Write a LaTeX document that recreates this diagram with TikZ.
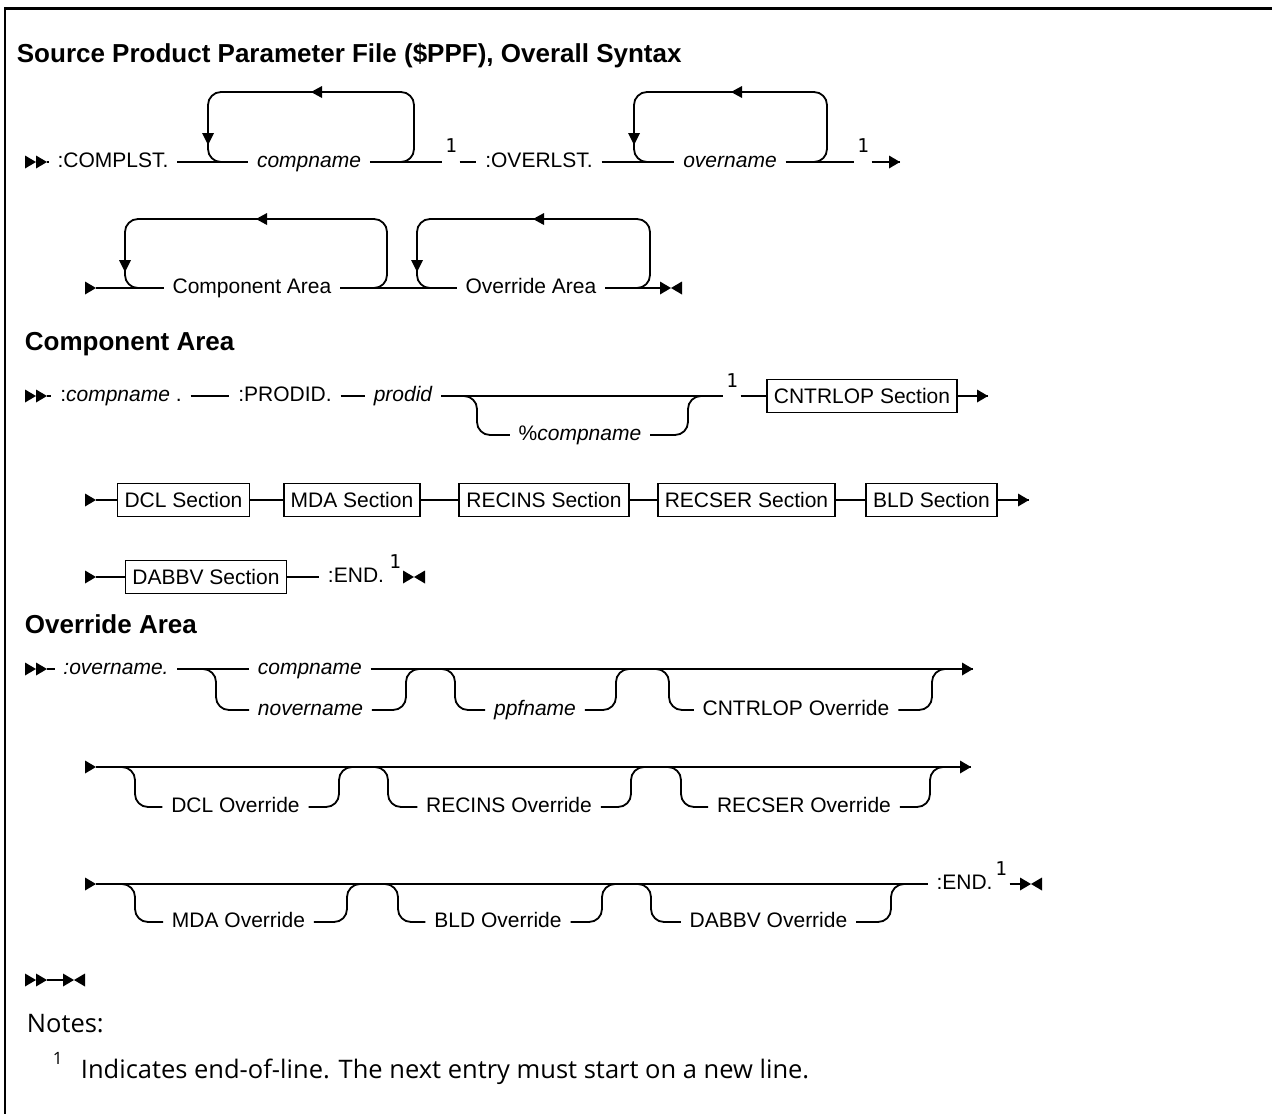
\documentclass[tikz,border=0pt]{standalone}
\usepackage{fontspec}
\setmainfont{Liberation Sans}
\newfontfamily\notefam{Open Sans}
\newfontfamily\monofam{DejaVu Sans Mono}
\newcommand\dfont{\fontsize{21}{25}\selectfont}
\newcommand\hfont{\fontsize{26}{31}\selectfont\bfseries}
\newcommand\supfnt{\monofam\fontsize{19}{21}\selectfont}
\newcommand\notefnt{\notefam\fontsize{25.5}{30}\selectfont}
\begin{document}
\dfont
\begin{tikzpicture}[x=1pt,y=-1pt,line width=1.8pt,
  t/.style={font=\dfont,inner xsep=8pt,inner ysep=0pt,anchor=mid},
  ti/.style={t,font=\dfont\itshape},
  box/.style={draw,font=\dfont,inner xsep=7pt,inner ysep=0pt,minimum height=33pt,anchor=center},
  supn/.style={font=\supfnt,inner xsep=2pt,inner ysep=0pt,anchor=base},
  hd/.style={font=\hfont,inner sep=0pt,anchor=base west},
  lp/.style={rounded corners=13pt},
  rtri/.pic={\fill (0,0) -- (-11,-6.5) -- (-11,6.5) -- cycle;},
  ltri/.pic={\fill (0,0) -- (11,-6) -- (11,6) -- cycle;},
  dtri/.pic={\fill (0,0) -- (-6,-12) -- (6,-12) -- cycle;},
  bowtie/.pic={\fill (0,0) -- (-11,-6.5) -- (-11,6.5) -- cycle; \fill (0,0) -- (11,-6.5) -- (11,6.5) -- cycle;},
]
\useasboundingbox (0,0) rectangle (1272,1114);
% frame
\draw[line width=3pt] (4,8) -- (1272,8);
\draw[line width=2.4pt] (5,8) -- (5,1114);

% headings
\node[hd] (h1) at (16,62) {Source Product Parameter File (\$PPF), Overall Syntax};
\node[hd] (h2) at (24,350) {Component Area};
\node[hd] (h3) at (24,633) {Override Area};

% ---------- Row 1
\pic at (36,162) {rtri};
\coordinate (s1) at (47,162);
\pic at (s1) {rtri};
\node[t] (cl) at (113,162) {:COMPLST.};
\node[ti] (cn) at (309,162) {compname};
\draw (s1) -- (cl.mid west);
\draw (cl.mid east) -- (cn.mid west);
\draw[lp] (400,162) -- (414,162) -- (414,92) -- (208,92) -- (208,162) -- (222,162);
\pic at (311,92) {ltri};
\pic at (208,145) {dtri};
\node[supn] (u1) at (451,152) {1};
\draw (cn.mid east) -- (cn.mid east -| u1.west);
\node[t] (ol) at (539,162) {:OVERLST.};
\draw (u1.east |- ol.mid west) -- (ol.mid west);
\node[ti] (on) at (730,162) {overname};
\draw (ol.mid east) -- (on.mid west);
\draw[lp] (813,162) -- (827,162) -- (827,92) -- (634,92) -- (634,162) -- (648,162);
\pic at (731,92) {ltri};
\pic at (634,145) {dtri};
\node[supn] (u2) at (863,152) {1};
\draw (on.mid east) -- (on.mid east -| u2.west);
\coordinate (e1) at (900,162);
\draw (u2.east |- e1) -- (e1);
\pic at (e1) {rtri};

% ---------- Row 2
\coordinate (s2) at (96,288);
\pic at (s2) {rtri};
\node[t] (ca) at (252,288) {Component Area};
\node[t] (oa) at (531,288) {Override Area};
\draw (s2) -- (ca.mid west);
\draw (ca.mid east) -- (oa.mid west);
\draw[lp] (373,288) -- (387,288) -- (387,219) -- (125,219) -- (125,288) -- (139,288);
\pic at (256,219) {ltri};
\pic at (125,272) {dtri};
\draw[lp] (636,288) -- (650,288) -- (650,219) -- (417,219) -- (417,288) -- (431,288);
\pic at (533,219) {ltri};
\pic at (417,272) {dtri};
\coordinate (e2) at (660,288);
\draw (oa.mid east) -- (e2);
\pic at (671,288) {bowtie};

% ---------- Row 3
\pic at (36,396) {rtri};
\coordinate (s3) at (47,396);
\pic at (s3) {rtri};
\node[t] (cp) at (121,396) {:\textit{compname}\ .};
\node[t] (pr) at (285,396) {:PRODID.};
\node[ti] (pd) at (403,396) {prodid};
\node[t] (pc) at (580,435) {\%\textit{compname}};
\node[supn] (u3) at (732,387) {1};
\node[box] (b0) at (862,396) {CNTRLOP Section};
\coordinate (e3) at (988,396);
\draw (s3) -- (cp.mid west);
\draw (cp.mid east) -- (pr.mid west);
\draw (pr.mid east) -- (pd.mid west);
\draw (pd.mid east) -- (pd.mid east -| u3.west);
\draw[lp] (463,396) -- (477,396) -- (477,435) -- (pc.mid west);
\draw[lp] (pc.mid east) -- (688,435) -- (688,396) -- (702,396);
\draw (u3.east |- b0.west) -- (b0.west);
\draw (b0.east) -- (e3);
\pic at (e3) {rtri};

% ---------- Row 4
\coordinate (s4) at (96,500);
\pic at (s4) {rtri};
\node[box] (b1) at (183.5,500) {DCL Section};
\node[box] (b2) at (352,500) {MDA Section};
\node[box] (b3) at (544,500) {RECINS Section};
\node[box] (b4) at (746.5,500) {RECSER Section};
\node[box] (b5) at (931.5,500) {BLD Section};
\coordinate (e4) at (1029,500);
\draw (s4) -- (b1.west);
\draw (b1.east) -- (b2.west);
\draw (b2.east) -- (b3.west);
\draw (b3.east) -- (b4.west);
\draw (b4.east) -- (b5.west);
\draw (b5.east) -- (e4);
\pic at (e4) {rtri};

% ---------- Row 5
\coordinate (s5) at (96,577);
\pic at (s5) {rtri};
\node[box] (b6) at (206,577) {DABBV Section};
\node[t] (en1) at (356,577) {:END.};
\node[supn] (u5) at (395,568) {1};
\coordinate (e5) at (403,577);
\draw (s5) -- (b6.west);
\draw (b6.east) -- (en1.mid west);
\draw (u5.east |- e5) -- (e5);
\pic at (414,577) {bowtie};

% ---------- Row 6
\pic at (36,669) {rtri};
\coordinate (s6) at (47,669);
\pic at (s6) {rtri};
\node[ti] (ov) at (116,669) {:overname.};
\node[ti,anchor=mid west] (cn2) at (249,669) {compname};
\node[ti,anchor=mid west] (nv) at (249,710) {novername};
\node[ti] (pf) at (535,710) {ppfname};
\node[t] (co) at (796,710) {CNTRLOP Override};
\coordinate (e6) at (973,669);
\draw (s6) -- (ov.mid west);
\draw (ov.mid east) -- (cn2.mid west);
\draw (cn2.mid east) -- (e6);
\pic at (e6) {rtri};
\draw[lp] (202,669) -- (216,669) -- (216,710) -- (nv.mid west);
\draw[lp] (nv.mid east) -- (406,710) -- (406,669) -- (420,669);
\draw[lp] (441,669) -- (455,669) -- (455,710) -- (pf.mid west);
\draw[lp] (pf.mid east) -- (616,710) -- (616,669) -- (630,669);
\draw[lp] (655,669) -- (669,669) -- (669,710) -- (co.mid west);
\draw[lp] (co.mid east) -- (932,710) -- (932,669) -- (946,669);

% ---------- Row 7
\coordinate (s7) at (96,767);
\pic at (s7) {rtri};
\coordinate (e7) at (971,767);
\draw (s7) -- (e7);
\pic at (e7) {rtri};
\node[t] (d1) at (235.5,807) {DCL Override};
\node[t] (d2) at (509,807) {RECINS Override};
\node[t] (d3) at (804,807) {RECSER Override};
\draw[lp] (121,767) -- (135,767) -- (135,807) -- (d1.mid west);
\draw[lp] (d1.mid east) -- (339,807) -- (339,767) -- (353,767);
\draw[lp] (374,767) -- (388,767) -- (388,807) -- (d2.mid west);
\draw[lp] (d2.mid east) -- (631,807) -- (631,767) -- (645,767);
\draw[lp] (667,767) -- (681,767) -- (681,807) -- (d3.mid west);
\draw[lp] (d3.mid east) -- (930,807) -- (930,767) -- (944,767);

% ---------- Row 8
\coordinate (s8) at (96,884);
\pic at (s8) {rtri};
\node[t] (en2) at (964.5,884) {:END.};
\draw (s8) -- (en2.mid west);
\node[t] (m1) at (238.5,922) {MDA Override};
\node[t] (m2) at (498,922) {BLD Override};
\node[t] (m3) at (768.5,922) {DABBV Override};
\draw[lp] (121,884) -- (135,884) -- (135,922) -- (m1.mid west);
\draw[lp] (m1.mid east) -- (347,922) -- (347,884) -- (361,884);
\draw[lp] (384,884) -- (398,884) -- (398,922) -- (m2.mid west);
\draw[lp] (m2.mid east) -- (602,922) -- (602,884) -- (616,884);
\draw[lp] (637,884) -- (651,884) -- (651,922) -- (m3.mid west);
\draw[lp] (m3.mid east) -- (891,922) -- (891,884) -- (905,884);
\node[supn] (u8) at (1001,875) {1};
\coordinate (e8) at (1020,884);
\draw (u8.east |- e8) -- (e8);
\pic at (1031,884) {bowtie};

% ---------- Row 9
\pic at (36,980) {rtri};
\coordinate (s9) at (47,980);
\pic at (s9) {rtri};
\coordinate (e9) at (63,980);
\draw (s9) -- (e9);
\pic at (74,980) {bowtie};

% ---------- Notes
\node[anchor=base west,font=\notefnt,inner sep=0pt] (nt) at (26,1032) {Notes:};
\node[anchor=base west,font=\notefam\fontsize{17}{19}\selectfont,inner sep=0pt] (fs) at (52,1064) {1};
\node[anchor=base west,font=\notefnt,inner sep=0pt] (fn) at (80,1078) {Indicates end-of-line. The next entry must start on a new line.};
\end{tikzpicture}
\end{document}
